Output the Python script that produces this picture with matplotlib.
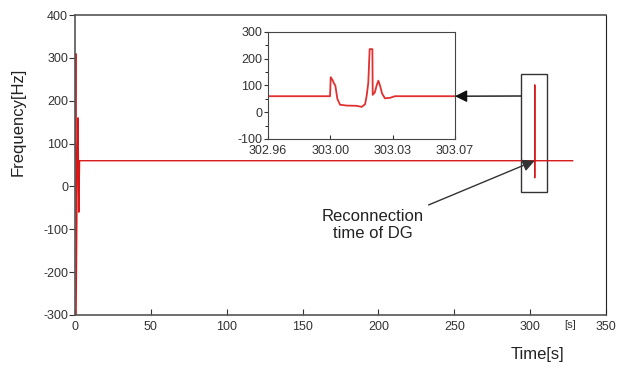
import matplotlib.pyplot as plt
import numpy as np
from matplotlib.patches import Rectangle, ConnectionPatch

plt.rcParams['font.family'] = ['Liberation Sans', 'DejaVu Sans']
plt.rcParams['axes.unicode_minus'] = False

# frequency over the whole run [s], [Hz]
time_s = [0, 0.3, 0.5, 0.7, 1.5, 2.0, 2.5, 3.0, 302.99, 303.0, 303.02, 303.03, 328]
freq_hz = [60, 60, 310, -300, 60, 160, -60, 60, 60, 20, 237, 60, 60]

# zoom around the reconnection of the DG
zoom_t = [302.96, 302.9965, 302.9969, 302.9980, 302.9988, 302.9996, 303.0008, 303.0024,
          303.0063, 303.0122, 303.0151, 303.0171, 303.0180, 303.0190, 303.0198, 303.0214,
          303.0216, 303.0229, 303.0239, 303.0249, 303.0259, 303.0271, 303.0288, 303.0318,
          303.0347, 303.07]
zoom_f = [60, 60, 131, 120, 108, 100, 50, 28,
          25, 24, 20, 30, 60, 110, 236, 236,
          65, 75, 100, 118, 100, 70, 52, 54,
          60, 60]

main_xticks = [0, 50, 100, 150, 200, 250, 300, 350]
main_yticks = [-300, -200, -100, 0, 100, 200, 300, 400]
zoom_yticks = [-100, 0, 100, 200, 300]

fig = plt.figure(figsize=(6.17, 3.67), dpi=100)
ax = fig.add_axes([0.1216, 0.1417, 0.8606, 0.8174])
ax.plot(time_s, freq_hz, color='#d81818', lw=1.0)
ax.set_xlim(0, 350)
ax.set_ylim(-300, 400)
ax.set_xticks(main_xticks)
ax.set_yticks(main_yticks)
ax.tick_params(axis='y', direction='out', length=4, labelsize=9, colors='#333333', pad=1)
ax.tick_params(axis='x', direction='in', length=4, labelsize=9, colors='#333333', pad=4)
for s in ['left', 'bottom', 'top']:
    ax.spines[s].set_color('#555555')
    ax.spines[s].set_linewidth(1.2)
ax.spines['right'].set_color('#222222')

fig.text(18 / 617, 1 - 122 / 367, 'Frequency[Hz]', rotation=90, ha='center', va='center', fontsize=12, color='#222222')
fig.text(537 / 617, 1 - 355 / 367, 'Time[s]', ha='center', va='center', fontsize=12, color='#222222')
fig.text(570 / 617, 1 - 325 / 367, '[s]', ha='center', va='center', fontsize=8, color='#333333')

# box around the reconnection spike
ax.add_patch(Rectangle((294, -13), 17, 275, fill=False, ec='#333333', lw=1.0))

ax.annotate('Reconnection\ntime of DG', xy=(303, 60), xytext=(196, -90),
            ha='center', va='center', fontsize=12, color='#222222',
            arrowprops=dict(arrowstyle='-|>', color='#333333', lw=1.0,
                            mutation_scale=18, relpos=(0.96, 1.0), shrinkA=2, shrinkB=0))

# inset
axi = fig.add_axes([268 / 617, 1 - 139 / 367, 187 / 617, 107 / 367])
axi.plot(zoom_t, zoom_f, color='#e03030', lw=1.3)
axi.set_xlim(302.96, 303.07)
axi.set_ylim(-100, 300)
xt = np.linspace(302.96, 303.07, 4)
axi.set_xticks(xt)
axi.set_xticklabels(['%.2f' % v for v in xt])
axi.set_yticks(zoom_yticks)
axi.set_yticks([-50, 50, 150, 250], minor=True)
axi.tick_params(axis='both', labelsize=9, colors='#333333')
axi.tick_params(axis='y', which='major', direction='out', length=3, pad=1)
axi.tick_params(axis='y', which='minor', direction='out', length=2)
axi.tick_params(axis='x', direction='in', length=3, pad=4)
for s in axi.spines.values():
    s.set_color('#444444')

con = ConnectionPatch(xyA=(294, 211), coordsA=ax.transData,
                      xyB=(303.07, 60), coordsB=axi.transData,
                      arrowstyle='-|>', color='#111111', lw=1.0, mutation_scale=18,
                      shrinkA=0, shrinkB=0)
fig.add_artist(con)

fig.savefig('out.png', dpi=100)
